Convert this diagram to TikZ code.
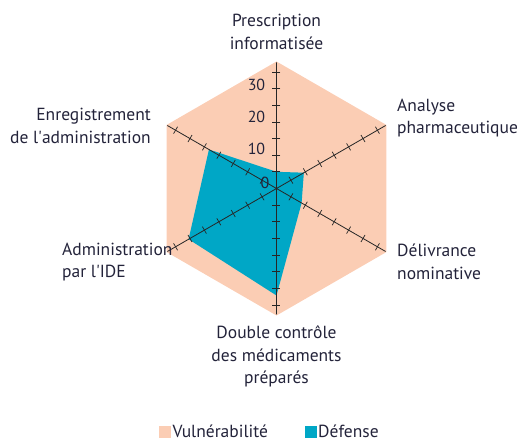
\documentclass[tikz,border=0pt]{standalone}
\usepackage{fontspec}
\setmainfont{PT Sans}
\definecolor{vulnpeach}{RGB}{251,205,180}
\definecolor{defenseblue}{RGB}{0,167,198}
\definecolor{labelgray}{RGB}{35,35,58}
\usetikzlibrary{positioning}
\tikzset{
x=1pt, y=1pt, % one unit is one pixel of the chart
axe/.style={draw=black!85, line width=0.8pt}, % the six axes
graduation/.style={draw=black!85, line width=0.7pt}, % the small ticks every 5
axelabel/.style={font=\fontsize{17.5}{22.5}\selectfont, text=labelgray, inner sep=0pt}, % names of the steps
valeur/.style={font=\fontsize{16}{18}\selectfont, text=labelgray, inner sep=0pt}, % 0, 10, 20, 30
legendbox/.style={minimum size=12pt, inner sep=0pt}, % coloured squares of the legend
}

\begin{document}
\begin{tikzpicture}
      \useasboundingbox (-276.5,-252.5) rectangle (245.5,188.5);

      % vulnerabilite and defense
      \fill[vulnpeach] (90:127) -- (30:127) -- (-30:127) -- (-90:127) -- (-150:127) -- (150:127) -- cycle;
      \fill[defenseblue] (90:16.7) -- (30:31.6) -- (-30:29) -- (-90:107) -- (-150:101.5) -- (150:78) -- cycle;

      \coordinate (presc) at (90:126);
      \coordinate (analyse) at (30:126);
      \coordinate (deliv) at (-30:126);
      \coordinate (dbl) at (-90:126);
      \coordinate (admin) at (-150:126);
      \coordinate (enreg) at (150:126);

      \draw[axe] (presc) -- (dbl)
      (analyse) -- (admin)
      (enreg) -- (deliv);

      \foreach \a in {90,30,-30,-90,-150,150}
        \foreach \k in {1,...,7}
          \draw[graduation, rotate=\a] ({\k*16.65},-4) -- ({\k*16.65},4);

      \node[valeur] (v0) at (-11.5,6) {0};
      \node[valeur] (v10) at (-20,40) {10};
      \node[valeur] (v20) at (-20,72) {20};
      \node[valeur] (v30) at (-20,104) {30};

      \node[axelabel, align=center] (presc-l) at (0,156.5) {Prescription\\informatisée};
      \node[axelabel, align=left, anchor=west] (analyse-l) at (120.5,70.5) {Analyse\\pharmaceutique};
      \node[axelabel, align=left, anchor=west] (deliv-l) at (120.5,-73.5) {Délivrance\\nominative};
      \node[axelabel, align=center] (dbl-l) at (0,-168) {Double contrôle\\des médicaments\\préparés};
      \node[axelabel, align=left, anchor=west] (admin-l) at (-214.5,-73.5) {Administration\\par l\textquotesingle IDE};
      \node[axelabel, align=right, anchor=east] (enreg-l) at (-125.5,62.5) {Enregistrement\\de l\textquotesingle administration};

      % legend
      \node[legendbox, fill=vulnpeach] (lv) at (-111.5,-243.5) {};
      \node[axelabel, text depth=0pt, anchor=base west] (lv-t) at (-104,-248.5) {Vulnérabilité};
      \node[legendbox, fill=defenseblue] (ld) at (34.5,-243.5) {};
      \node[axelabel, text depth=0pt, anchor=base west] (ld-t) at (41.5,-248.5) {Défense};
    \end{tikzpicture}
\end{document}
